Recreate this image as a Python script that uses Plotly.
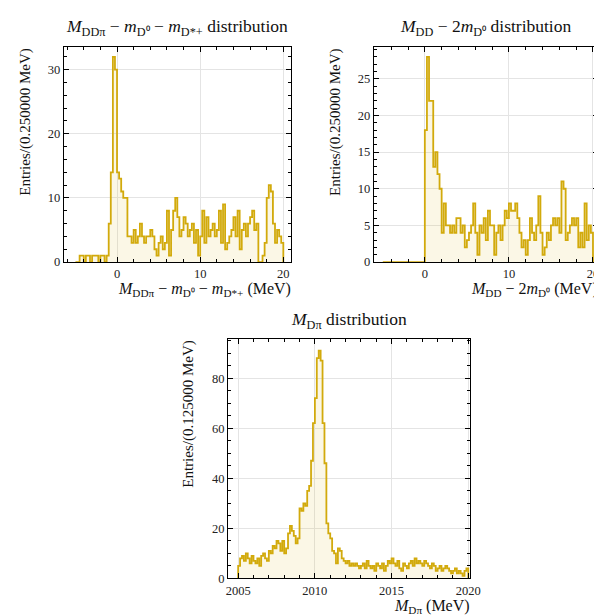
import numpy as np
import plotly.graph_objects as go

# ---------------- data ----------------
# Panel 1: M_DDpi - m_D0 - m_D*+ , 0.25 MeV bins starting at -5 MeV
tcc_bin_start = -5.0
tcc_bin_width = 0.25
tcc_counts = [0, 0, 1, 1, 0, 1, 1, 0, 1, 1, 1, 0, 1, 1, 0, 1,
              6, 14, 32, 30,
              14, 13, 11, 10, 10,
              4, 4, 3, 5, 3, 4, 6, 4, 3, 4, 4,
              5, 4, 2, 1, 3, 4, 2, 3,
              8, 1, 5, 8, 10, 7, 4, 5,
              7, 6, 4, 5, 6, 3, 5, 1,
              4, 8, 3, 7, 4, 5, 6, 4,
              5, 8, 3, 9, 2, 3, 4, 5,
              7, 4, 8, 2, 5, 6, 4, 6,
              7, 8, 5, 6, 0, 0, 1, 3,
              10, 12, 11, 6, 3, 5, 4, 3]

# Panel 2: M_DD - 2 m_D0 , 0.25 MeV bins starting at -5 MeV
dd_bin_start = -5.0
dd_bin_width = 0.25
dd_counts = [0] * 20 + [
    18, 28, 22, 22, 13, 15, 12, 10,
    4, 8, 5, 5, 4, 5, 4, 6,
    6, 4, 5, 2, 3, 4, 5, 8,
    4, 1, 5, 4, 6, 3, 7, 5,
    5, 1, 4, 5, 3, 5, 7, 6,
    8, 7, 7, 8, 6, 4, 2, 3,
    1, 3, 6, 4, 3, 5, 9, 4,
    1, 2, 4, 3, 5, 6, 5, 6,
    4, 11, 10, 3, 4, 5, 6, 5,
    6, 2, 4, 2, 8, 3, 5, 4]

# Panel 3: M_Dpi , 0.125 MeV bins starting at 2005 MeV
dst_bin_start = 2005.0
dst_bin_width = 0.125
dst_counts = [5, 8, 9, 7, 10, 8, 6, 9,
              7, 6, 8, 5, 9, 10, 8, 7,
              11, 10, 13, 12, 15, 14, 11, 15,
              10, 12, 18, 21, 19, 17, 14, 16,
              28, 27, 30, 29, 35, 37, 47, 62,
              72, 88, 91, 87, 62, 46, 22, 18,
              16, 11, 10, 6, 12, 11, 8, 7,
              6, 7, 5, 6, 5, 6, 5, 4,
              5, 6, 4, 7, 5, 4, 5, 3,
              6, 5, 4, 6, 3, 5, 7, 6,
              8, 6, 5, 7, 4, 3, 6, 5,
              4, 6, 7, 5, 8, 6, 7, 6,
              5, 7, 6, 5, 4, 6, 5, 3,
              4, 5, 3, 4, 5, 4, 3, 2,
              3, 4, 2, 3, 2, 1, 3, 4]

titles = ["<i>M</i><sub>DDπ</sub> − <i>m</i><sub>D⁰</sub> − <i>m</i><sub>D*+</sub> distribution",
          "<i>M</i><sub>DD</sub> − 2<i>m</i><sub>D⁰</sub> distribution",
          "<i>M</i><sub>Dπ</sub> distribution"]
xtitles = ["<i>M</i><sub>DDπ</sub> − <i>m</i><sub>D⁰</sub> − <i>m</i><sub>D*+</sub> (MeV)",
           "<i>M</i><sub>DD</sub> − 2<i>m</i><sub>D⁰</sub> (MeV)",
           "<i>M</i><sub>Dπ</sub> (MeV)"]
ytitles = ["Entries/(0.250000 MeV)", "Entries/(0.250000 MeV)", "Entries/(0.125000 MeV)"]

# ---------------- style ----------------
LINE = "#D2AA0C"
FILL = "rgba(226,196,60,0.13)"
FONT = "Liberation Serif"

fig = go.Figure()


def step_trace(start, width, counts, xa, ya):
    counts = np.asarray(counts, dtype=float)
    edges = start + width * np.arange(len(counts) + 1)
    x = np.concatenate([[edges[0]], edges[:-1], [edges[-1]]])
    y = np.concatenate([[0.0], counts, [0.0]])
    return go.Scatter(x=x, y=y, mode="lines", line=dict(color=LINE, width=1.8, shape="hv"),
                      fill="tozeroy", fillcolor=FILL, xaxis=xa, yaxis=ya,
                      showlegend=False, hoverinfo="skip")


fig.add_trace(step_trace(tcc_bin_start, tcc_bin_width, tcc_counts, "x", "y"))
fig.add_trace(step_trace(dd_bin_start, dd_bin_width, dd_counts, "x2", "y2"))
fig.add_trace(step_trace(dst_bin_start, dst_bin_width, dst_counts, "x3", "y3"))

W, H = 602, 615
panels = [
    dict(px=(55, 287), py=(39, 257), xr=[-6.4, 20.9], yr=[0, 1.05 * max(tcc_counts)],
         xd=10, xm=2, yd=10, ym=2),
    dict(px=(372, 601), py=(39, 257), xr=[-6.05, 20.6], yr=[0, 1.05 * max(dd_counts)],
         xd=10, xm=2, yd=5, ym=1),
    dict(px=(223, 470), py=(335, 577), xr=[2004.35, 2020.1], yr=[0, 1.05 * max(dst_counts)],
         xd=5, xm=1, yd=20, ym=5),
]

axis_common = dict(showline=True, linecolor="black", linewidth=1.2, mirror="ticks",
                   ticks="inside", ticklen=5, tickwidth=1, tickcolor="black",
                   showgrid=True, gridcolor="#e4e4e4", gridwidth=0.8, zeroline=False,
                   tickfont=dict(family=FONT, size=12.5, color="#222"))

annotations = []
for i, p in enumerate(panels):
    s = "" if i == 0 else str(i + 1)
    xd = [p["px"][0] / W, p["px"][1] / W]
    yd = [1 - p["py"][1] / H, 1 - p["py"][0] / H]
    fig.layout["xaxis" + s] = dict(domain=xd, range=p["xr"], anchor="y" + s, dtick=p["xd"],
                                   minor=dict(ticks="inside", ticklen=3, dtick=p["xm"], tickcolor="black",
                                              showgrid=False),
                                   **axis_common)
    fig.layout["yaxis" + s] = dict(domain=yd, range=p["yr"], anchor="x" + s, dtick=p["yd"],
                                   minor=dict(ticks="inside", ticklen=3, dtick=p["ym"], tickcolor="black",
                                              showgrid=False),
                                   **axis_common)
    cx = (xd[0] + xd[1]) / 2
    annotations.append(dict(text=titles[i], x=cx, y=yd[1] + 19 / H, xref="paper", yref="paper",
                            xanchor="center", yanchor="middle", showarrow=False,
                            font=dict(family=FONT, size=17.5, color="#111")))
    annotations.append(dict(text=xtitles[i], x=xd[1] + 2 / W, y=yd[0] - 28 / H, xref="paper", yref="paper",
                            xanchor="right", yanchor="middle", showarrow=False,
                            font=dict(family=FONT, size=16, color="#111")))
    annotations.append(dict(text=ytitles[i], x=xd[0] - 40 / W, y=yd[1], xref="paper", yref="paper",
                            xanchor="center", yanchor="top", textangle=-90, showarrow=False,
                            font=dict(family=FONT, size=15, color="#111")))

fig.update_layout(width=W, height=H, margin=dict(l=0, r=0, t=0, b=0),
                  paper_bgcolor="white", plot_bgcolor="white", annotations=annotations)

fig.write_html("out.html")
